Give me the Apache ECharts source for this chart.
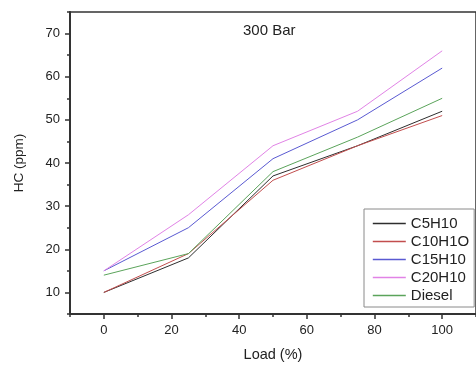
<!DOCTYPE html>
<html>
<head>
<meta charset="utf-8">
<script src="https://cdn.jsdelivr.net/npm/echarts@6/dist/echarts.min.js"></script>
<style>
  html, body { margin: 0; padding: 0; background: #fff; }
  #chart { width: 476px; height: 367px; }
</style>
</head>
<body>
<div id="chart"></div>
<script>
// Engine load (%) and HC emissions (ppm) at 300 bar injection pressure
const loads = [0, 25, 50, 75, 100];
const c5h10 = [10, 18, 37, 44, 52];
const c10h1o = [10, 19, 36, 44, 51];
const c15h10 = [15, 25, 41, 50, 62];
const c20h10 = [15, 28, 44, 52, 66];
const diesel = [14, 19, 38, 46, 55];

const seriesDefs = [
  { name: 'C5H10', data: c5h10, color: '#2e2e2e' },
  { name: 'C10H1O', data: c10h1o, color: '#c24e4e' },
  { name: 'C15H10', data: c15h10, color: '#5a5ad2' },
  { name: 'C20H10', data: c20h10, color: '#e183e6' },
  { name: 'Diesel', data: diesel, color: '#5ba45b' }
];

const chart = echarts.init(document.getElementById('chart'), null, { renderer: 'canvas' });

const font = 'Liberation Sans, Arial, sans-serif';
const axisCol = '#333';

chart.setOption({
  animation: false,
  backgroundColor: '#fff',
  title: {
    text: '300 Bar',
    left: 243,
    top: 23,
    padding: 0,
    textStyle: { fontFamily: font, fontSize: 15, fontWeight: 'normal', color: '#222' }
  },
  grid: {
    left: 70, top: 12, width: 407, height: 307,
    show: true, borderColor: axisCol, borderWidth: 1.5, backgroundColor: 'transparent'
  },
  legend: {
    orient: 'vertical',
    left: 364,
    top: 209,
    padding: [7, 5, 4, 8],
    itemWidth: 33,
    itemHeight: 15,
    itemGap: 3,
    itemStyle: { opacity: 0 },
    lineStyle: { width: 1.6 },
    borderColor: '#8a8a8a',
    borderWidth: 1,
    borderRadius: 0,
    backgroundColor: '#fff',
    textStyle: { fontFamily: font, fontSize: 15, color: '#222', lineHeight: 15 },
    data: seriesDefs.map(s => s.name)
  },
  xAxis: [
    {
      // major ticks and labels every 20
      type: 'value', min: -10, max: 110, splitNumber: 6, position: 'bottom',
      name: 'Load (%)', nameLocation: 'middle', nameGap: 33,
      nameTextStyle: { fontFamily: font, fontSize: 14.5, color: '#222' },
      axisLine: { show: true, onZero: false, lineStyle: { color: axisCol, width: 2 } },
      axisTick: { show: true, inside: false, length: 5, lineStyle: { color: axisCol, width: 1.5 } },
      axisLabel: { showMinLabel: false, showMaxLabel: false, margin: 10, fontFamily: font, fontSize: 13, color: '#222' },
      splitLine: { show: false }
    },
    {
      // minor ticks every 10
      type: 'value', min: -10, max: 110, interval: 10, position: 'bottom',
      axisLine: { show: false, onZero: false },
      axisTick: { show: true, inside: false, length: 3, lineStyle: { color: axisCol, width: 1.5 } },
      axisLabel: { show: false },
      splitLine: { show: false }
    }
  ],
  yAxis: [
    {
      // major ticks and labels every 10
      type: 'value', min: 5, max: 75, splitNumber: 7, position: 'left',
      name: 'HC (ppm)', nameLocation: 'middle', nameGap: 44, nameRotate: 90,
      nameTextStyle: { fontFamily: font, fontSize: 13.5, color: '#222' },
      axisLine: { show: true, onZero: false, lineStyle: { color: axisCol, width: 2 } },
      axisTick: { show: true, inside: false, length: 5, lineStyle: { color: axisCol, width: 1.5 } },
      axisLabel: { showMinLabel: false, showMaxLabel: false, margin: 10, fontFamily: font, fontSize: 13, color: '#222' },
      splitLine: { show: false }
    },
    {
      // minor ticks every 5
      type: 'value', min: 5, max: 75, interval: 5, position: 'left',
      axisLine: { show: false, onZero: false },
      axisTick: { show: true, inside: false, length: 3, lineStyle: { color: axisCol, width: 1.5 } },
      axisLabel: { show: false },
      splitLine: { show: false }
    }
  ],
  series: seriesDefs.map(s => ({
    name: s.name,
    type: 'line',
    xAxisIndex: 0,
    yAxisIndex: 0,
    symbol: 'none',
    data: loads.map((x, i) => [x, s.data[i]]),
    lineStyle: { color: s.color, width: 1 },
    itemStyle: { color: s.color }
  }))
});
</script>
</body>
</html>
